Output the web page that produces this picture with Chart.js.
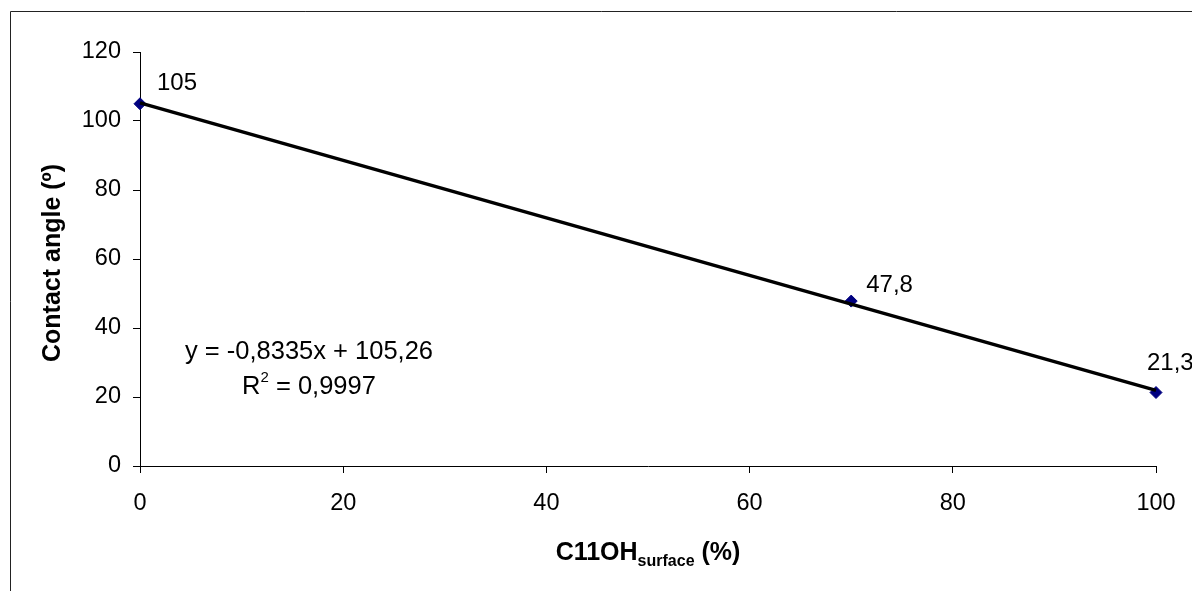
<!DOCTYPE html>
<html>
<head>
<meta charset="utf-8">
<script src="https://cdn.jsdelivr.net/npm/chart.js@4/dist/chart.umd.min.js"></script>
<style>
  html, body { margin: 0; padding: 0; background: #fff; }
  #wrap { width: 1192px; height: 591px; position: relative; }
</style>
</head>
<body>
<div id="wrap"><canvas id="angleChart" width="1192" height="591"></canvas></div>
<script>
// Data
const xValues = [0, 70, 100];          // C11OH surface (%)
const yValues = [105, 47.8, 21.3];     // contact angle (deg)
const pointLabels = ['105', '47,8', '21,3'];
const xTicks = [0, 20, 40, 60, 80, 100];
const yTicks = [0, 20, 40, 60, 80, 100, 120];

// Trendline as printed on the chart
const trendSlope = -0.8335;
const trendIntercept = 105.26;
const trendRange = [0, 100];
const eqLine1 = 'y = -0,8335x + 105,26';
const eqR2 = '0,9997';

const FONT = '"Liberation Sans", Arial, sans-serif';

// label offsets from the point (px), style only
const labelOffsets = [[17, -20], [15, -16], [-9, -29]];

const annotations = {
  id: 'annotations',
  afterDatasetsDraw(chart) {
    const ctx = chart.ctx;
    const xs = chart.scales.x, ys = chart.scales.y;
    ctx.save();
    ctx.fillStyle = '#000';
    ctx.font = '24px ' + FONT;
    ctx.textAlign = 'left';
    ctx.textBaseline = 'middle';
    xValues.forEach((xv, i) => {
      const px = xs.getPixelForValue(xv), py = ys.getPixelForValue(yValues[i]);
      ctx.fillText(pointLabels[i], px + labelOffsets[i][0], py + labelOffsets[i][1]);
    });

    // equation
    const cx = 309;
    const eqFont = '25.5px ' + FONT, supFont = '15px ' + FONT;
    ctx.font = eqFont;
    ctx.textAlign = 'center';
    ctx.textBaseline = 'alphabetic';
    ctx.fillText(eqLine1, cx, 359);
    const partA = 'R', partB = '2', partC = ' = ' + eqR2;
    const wA = ctx.measureText(partA).width;
    const wC = ctx.measureText(partC).width;
    ctx.font = supFont;
    const wB = ctx.measureText(partB).width;
    const start = cx - (wA + wB + wC) / 2;
    ctx.textAlign = 'left';
    ctx.font = eqFont;
    ctx.fillText(partA, start, 394);
    ctx.fillText(partC, start + wA + wB, 394);
    ctx.font = supFont;
    ctx.fillText(partB, start + wA, 382);

    // y axis title
    ctx.save();
    ctx.translate(60, 263);
    ctx.rotate(-Math.PI / 2);
    ctx.font = 'bold 25px ' + FONT;
    ctx.textAlign = 'center';
    ctx.fillText('Contact angle (º)', 0, 0);
    ctx.restore();

    // x axis title with subscript
    const t1 = 'C11OH', t2 = 'surface', t3 = ' (%)';
    const big = 'bold 25px ' + FONT, small = 'bold 16px ' + FONT;
    ctx.font = big;
    const w1 = ctx.measureText(t1).width, w3 = ctx.measureText(t3).width;
    ctx.font = small;
    const w2 = ctx.measureText(t2).width;
    const area = chart.chartArea;
    const x0 = (area.left + area.right) / 2 - (w1 + w2 + w3) / 2;
    ctx.textAlign = 'left';
    ctx.font = big;
    ctx.fillText(t1, x0, 560);
    ctx.fillText(t3, x0 + w1 + w2, 560);
    ctx.font = small;
    ctx.fillText(t2, x0 + w1, 566);

    // outer frame
    ctx.strokeStyle = '#222';
    ctx.lineWidth = 1;
    ctx.beginPath();
    ctx.moveTo(10.5, 591);
    ctx.lineTo(10.5, 11.5);
    ctx.lineTo(1192, 11.5);
    ctx.stroke();
    ctx.restore();
  }
};

new Chart(document.getElementById('angleChart'), {
  type: 'scatter',
  data: {
    datasets: [{
      label: 'Trend',
      data: trendRange.map(x => ({ x: x, y: trendSlope * x + trendIntercept })),
      showLine: true,
      borderColor: '#000',
      borderWidth: 3.5,
      pointRadius: 0,
      clip: false,
      order: 0
    }, {
      label: 'Contact angle',
      data: xValues.map((x, i) => ({ x: x, y: yValues[i] })),
      pointStyle: 'rectRot',
      pointRadius: 6,
      pointBackgroundColor: '#000080',
      pointBorderColor: '#000080',
      pointBorderWidth: 1,
      clip: false,
      order: 1
    }]
  },
  options: {
    responsive: false,
    animation: false,
    layout: { padding: { left: 0, top: 52, right: 36, bottom: 0 } },
    plugins: { legend: { display: false }, tooltip: { enabled: false } },
    scales: {
      x: {
        type: 'linear',
        min: 0, max: 100,
        afterBuildTicks: s => { s.ticks = xTicks.map(v => ({ value: v })); },
        afterFit: s => { s.height = 125; },
        grid: { drawOnChartArea: false, tickLength: 7, tickColor: '#000' },
        border: { color: '#000', width: 1 },
        ticks: { color: '#000', font: { family: FONT, size: 23.5 }, padding: 16, maxRotation: 0, autoSkip: false }
      },
      y: {
        min: 0, max: 120,
        afterBuildTicks: s => { s.ticks = yTicks.map(v => ({ value: v })); },
        afterFit: s => { s.width = 140; },
        grid: { drawOnChartArea: false, tickLength: 7, tickColor: '#000' },
        border: { color: '#000', width: 1 },
        ticks: { color: '#000', font: { family: FONT, size: 23.5 }, padding: 12 }
      }
    }
  },
  plugins: [annotations]
});
</script>
</body>
</html>
